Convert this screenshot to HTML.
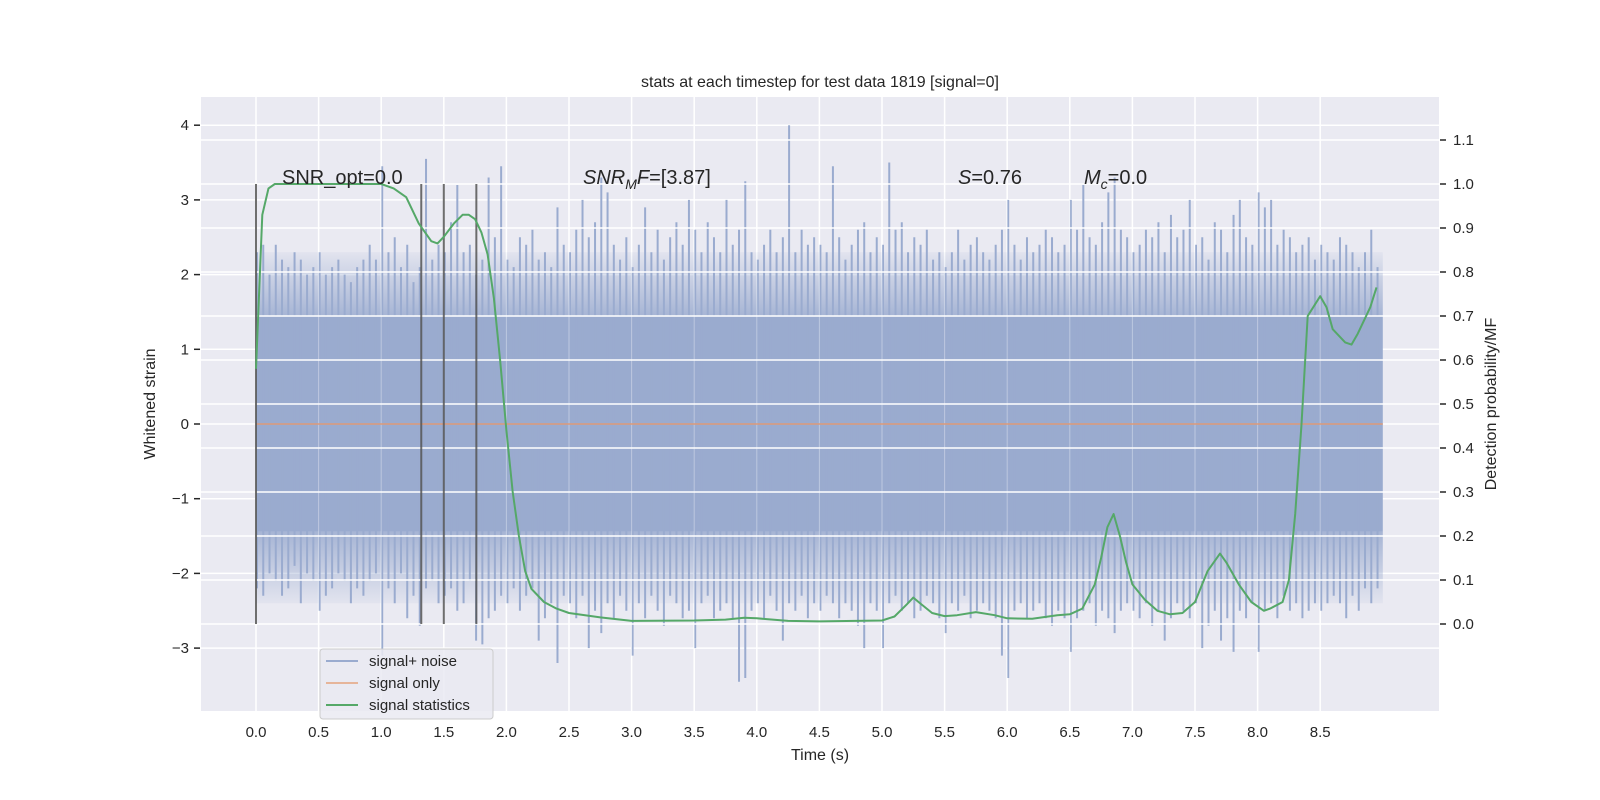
<!DOCTYPE html>
<html><head><meta charset="utf-8">
<style>
html,body{margin:0;padding:0;background:#fff;}
svg{display:block;font-family:"Liberation Sans","DejaVu Sans",sans-serif;}
</style></head>
<body>
<svg id="chart" width="1600" height="800" viewBox="0 0 1600 800" xmlns="http://www.w3.org/2000/svg">
<defs>
<linearGradient id="fadeUp" x1="0" y1="1" x2="0" y2="0">
<stop offset="0" stop-color="#9aabcf" stop-opacity="0.85"/>
<stop offset="1" stop-color="#9aabcf" stop-opacity="0.1"/>
</linearGradient>
<linearGradient id="fadeDown" x1="0" y1="0" x2="0" y2="1">
<stop offset="0" stop-color="#9aabcf" stop-opacity="0.85"/>
<stop offset="1" stop-color="#9aabcf" stop-opacity="0.1"/>
</linearGradient>
</defs>
<rect x="0" y="0" width="1600" height="800" fill="#ffffff"/>
<rect x="201" y="97" width="1238" height="614" fill="#eaeaf2"/>
<g id="gridL"></g>
<g id="noise"></g>
<g id="gridR"></g>
<g id="marks"></g>
<g id="axes"></g>
<text x="820" y="87" font-size="16" fill="#262626" text-anchor="middle">stats at each timestep for test data 1819 [signal=0]</text>
<text x="820" y="760" font-size="16" fill="#262626" text-anchor="middle">Time (s)</text>
<text transform="translate(155,404) rotate(-90)" font-size="16" fill="#262626" text-anchor="middle">Whitened strain</text>
<text transform="translate(1496,404) rotate(-90)" font-size="16" fill="#262626" text-anchor="middle">Detection probability/MF</text>
<text x="282" y="184" font-size="20" fill="#262626">SNR_opt=0.0</text>
<text x="583" y="184" font-size="20" fill="#262626"><tspan font-style="italic">SNR</tspan><tspan font-style="italic" font-size="14" dy="5">M</tspan><tspan font-style="italic" dy="-5">F</tspan>=[3.87]</text>
<text x="958" y="184" font-size="20" fill="#262626"><tspan font-style="italic">S</tspan>=0.76</text>
<text x="1084" y="184" font-size="20" fill="#262626"><tspan font-style="italic">M</tspan><tspan font-style="italic" font-size="14" dy="5">c</tspan><tspan dy="-5">=0.0</tspan></text>
<g>
<rect x="320" y="649" width="173" height="70" rx="3" fill="#eaeaf2" fill-opacity="0.85" stroke="#cccccc"/>
<line x1="326" y1="661" x2="358" y2="661" stroke="#9aabcf" stroke-width="2"/>
<text x="369" y="666" font-size="15" fill="#262626">signal+ noise</text>
<line x1="326" y1="683" x2="358" y2="683" stroke="#e6b59a" stroke-width="2"/>
<text x="369" y="688" font-size="15" fill="#262626">signal only</text>
<line x1="326" y1="705" x2="358" y2="705" stroke="#55a868" stroke-width="2"/>
<text x="369" y="710" font-size="15" fill="#262626">signal statistics</text>
</g>
</svg>
<script>
const xTicks = [0,0.5,1,1.5,2,2.5,3,3.5,4,4.5,5,5.5,6,6.5,7,7.5,8,8.5];
const yTicksL = [-3,-2,-1,0,1,2,3,4];
const yTicksR = [0,0.1,0.2,0.3,0.4,0.5,0.6,0.7,0.8,0.9,1.0,1.1];
const noiseStep = 0.05;
const noiseCore = 1.44;
const noiseUpper = [2.3,2.4,2.0,2.4,2.2,2.1,2.3,2.2,2.0,2.1, 2.3,2.0,2.1,2.2,2.0,1.9,2.1,2.2,2.4,2.2,
3.45,2.3,2.5,2.1,2.4,1.9,2.1,3.55,2.2,2.4, 2.3,2.7,3.2,2.3,2.4,2.0,2.2,3.3,2.5,3.45,
2.2,2.1,2.5,2.4,2.6,2.2,2.3,2.1,2.9,2.4, 2.3,2.6,3.0,2.5,2.7,3.3,3.1,2.4,2.2,2.5,
2.1,2.4,2.9,2.3,2.6,2.2,2.5,2.7,2.4,3.0, 2.6,2.3,2.7,2.5,2.3,3.0,2.4,2.6,3.25,2.3,
2.2,2.4,2.6,2.3,2.5,4.0,2.3,2.6,2.4,2.5, 2.4,2.3,3.45,2.5,2.2,2.4,2.6,2.7,2.3,2.5,
2.4,3.5,2.6,2.7,2.3,2.5,2.4,2.6,2.2,2.3, 2.1,2.3,2.6,2.2,2.4,2.5,2.3,2.2,2.4,2.6,
3.0,2.4,2.2,2.5,2.3,2.4,2.6,2.5,2.3,2.4, 3.0,2.6,3.2,2.5,2.4,2.7,3.1,3.3,2.6,2.5,
2.3,2.4,2.6,2.5,2.7,2.3,2.8,2.5,2.6,3.0, 2.4,2.5,2.2,2.7,2.6,2.3,2.8,3.0,2.5,2.4,
3.1,2.9,3.0,2.4,2.6,2.5,2.3,2.4,2.5,2.2, 2.4,2.3,2.2,2.5,2.4,2.3,2.1,2.3,2.6,2.1];
const noiseLower = [-2.2,-2.3,-2.0,-2.1,-2.3,-2.2,-1.9,-2.4,-2.0,-2.1, -2.5,-2.3,-2.2,-2.0,-2.1,-2.4,-2.2,-2.3,-2.1,-2.0,
-3.1,-2.2,-2.4,-2.0,-2.6,-2.3,-2.7,-2.2,-2.1,-2.4, -2.3,-2.2,-2.5,-2.4,-2.1,-2.9,-2.95,-2.6,-2.5,-2.3,
-2.4,-2.2,-2.5,-2.3,-2.2,-2.9,-2.6,-2.4,-3.2,-2.3, -2.4,-2.6,-2.3,-3.0,-2.5,-2.8,-2.4,-2.6,-2.3,-2.5,
-3.1,-2.4,-2.6,-2.3,-2.5,-2.7,-2.3,-2.4,-2.6,-2.5, -3.0,-2.4,-2.3,-2.6,-2.5,-2.4,-2.6,-3.45,-3.4,-2.5,
-2.4,-2.6,-2.3,-2.5,-2.9,-2.4,-2.5,-2.3,-2.6,-2.4, -2.5,-2.3,-2.4,-2.6,-2.4,-2.5,-2.7,-3.0,-2.4,-2.5,
-3.0,-2.4,-2.3,-2.5,-2.4,-2.6,-2.5,-2.3,-2.4,-2.6, -2.8,-2.4,-2.5,-2.3,-2.6,-2.5,-2.4,-2.5,-2.6,-3.1,
-3.4,-2.5,-2.4,-2.6,-2.5,-2.4,-2.6,-2.7,-2.5,-2.6, -3.05,-2.6,-2.5,-2.4,-2.7,-2.5,-2.6,-2.8,-2.5,-2.4,
-2.5,-2.6,-2.4,-2.7,-2.5,-2.9,-2.6,-2.4,-2.5,-2.6, -2.4,-3.0,-2.7,-2.5,-2.9,-2.6,-3.05,-2.5,-2.6,-2.4,
-3.05,-2.5,-2.4,-2.6,-2.3,-2.5,-2.4,-2.6,-2.5,-2.4, -2.5,-2.4,-2.3,-2.4,-2.6,-2.3,-2.5,-2.2,-2.4,-2.2];
const statT = [0,0.05,0.1,0.15,0.2,0.3,0.5,0.8,1.0,1.1,1.2,1.3,1.4,1.45,1.5,1.58,1.65,1.7,1.75,1.8,1.85,1.9,1.95,2.0,2.05,2.1,2.15,2.2,2.3,2.4,2.5,2.75,3.0,3.5,3.75,3.9,4.0,4.25,4.5,5.0,5.1,5.2,5.25,5.3,5.4,5.5,5.6,5.75,5.9,6.0,6.2,6.4,6.5,6.6,6.7,6.75,6.8,6.85,6.9,6.95,7.0,7.1,7.2,7.3,7.4,7.5,7.6,7.7,7.75,7.85,7.95,8.05,8.1,8.2,8.25,8.3,8.35,8.4,8.5,8.55,8.6,8.7,8.75,8.8,8.9,8.95];
const statP = [0.58,0.93,0.99,1.0,1.0,1.0,1.0,1.0,1.0,0.99,0.97,0.91,0.87,0.865,0.88,0.91,0.93,0.93,0.92,0.89,0.84,0.74,0.6,0.44,0.3,0.2,0.12,0.08,0.05,0.035,0.025,0.015,0.007,0.008,0.01,0.014,0.013,0.007,0.006,0.008,0.017,0.045,0.06,0.048,0.025,0.018,0.02,0.027,0.02,0.013,0.012,0.02,0.022,0.035,0.09,0.15,0.22,0.25,0.2,0.14,0.09,0.055,0.03,0.022,0.025,0.05,0.12,0.16,0.14,0.09,0.05,0.03,0.035,0.05,0.1,0.25,0.45,0.7,0.745,0.72,0.67,0.64,0.635,0.66,0.72,0.765];
const vLineT = [0,1.32,1.5,1.76];
const signalOnly = [0,0];
const signalOnlyT = [0,9.0];

const NS='http://www.w3.org/2000/svg';
const X = t => 256 + 125.2*t;
const YL = v => 424 - 74.7*v;
const YR = p => 624 - 440*p;
function mk(tag, attrs, parent){ const e=document.createElementNS(NS,tag); for(const k in attrs) e.setAttribute(k,attrs[k]); parent.appendChild(e); return e; }
const gL=document.getElementById('gridL'), gN=document.getElementById('noise'), gR=document.getElementById('gridR'), gM=document.getElementById('marks'), gA=document.getElementById('axes');

yTicksL.forEach(v=>{
  const l=mk('line',{x1:201,x2:1439,y1:YL(v),y2:YL(v),stroke:'#fff','stroke-width':1.5},gL);
  
  
  mk('line',{x1:194,x2:200,y1:YL(v),y2:YL(v),stroke:'#262626','stroke-width':1.5},gA);
  const t=mk('text',{x:189,y:YL(v)+5,'font-size':15,fill:'#262626','text-anchor':'end'},gA);
  t.textContent = v<0 ? '\u2212'+Math.abs(v) : String(v);
  
  
});
xTicks.forEach(v=>{
  const l=mk('line',{x1:X(v),x2:X(v),y1:97,y2:711,stroke:'#fff','stroke-width':1.5},gL);
  
  
  const t=mk('text',{x:X(v),y:737,'font-size':15,fill:'#262626','text-anchor':'middle'},gA);
  t.textContent=v.toFixed(1);
  
  
});
// noise
const band=mk('rect',{x:X(0),y:YL(noiseCore),width:X(9)-X(0),height:YL(-noiseCore)-YL(noiseCore),fill:'#9aabcf'},gN);


const fu=mk('rect',{x:X(0),y:YL(2.3),width:X(9)-X(0),height:YL(noiseCore)-YL(2.3),fill:'url(#fadeUp)'},gN);


const fd=mk('rect',{x:X(0),y:YL(-noiseCore),width:X(9)-X(0),height:YL(-2.4)-YL(-noiseCore),fill:'url(#fadeDown)'},gN);


noiseUpper.forEach((v,i)=>{
  const t=i*noiseStep;
  const l=mk('line',{x1:X(t)+1,x2:X(t)+1,y1:YL(v),y2:YL(noiseLower[i]),stroke:'#9aabcf','stroke-width':2},gN);
  
  
});
// right grid overlay
yTicksR.forEach(p=>{
  const l=mk('line',{x1:201,x2:1439,y1:YR(p),y2:YR(p),stroke:'#fff','stroke-width':1.5},gR);
  
  
  mk('line',{x1:1440,x2:1446,y1:YR(p),y2:YR(p),stroke:'#262626','stroke-width':1.5},gA);
  const t=mk('text',{x:1453,y:YR(p)+5,'font-size':15,fill:'#262626'},gA);
  t.textContent=p.toFixed(1);
  
  
});
xTicks.forEach(v=>{
  const l=mk('line',{x1:X(v),x2:X(v),y1:97,y2:711,stroke:'#fff','stroke-width':1,'stroke-opacity':0.35},gR);
  
  
});
// signal only
const so=mk('line',{x1:X(signalOnlyT[0]),x2:X(signalOnlyT[1]),y1:YL(signalOnly[0]),y2:YL(signalOnly[1]),stroke:'#dd9a78','stroke-width':1.5},gM);


// vertical markers
vLineT.forEach(t=>{
  const l=mk('line',{x1:X(t),x2:X(t),y1:YR(1),y2:YR(0),stroke:'#555555','stroke-width':2,'stroke-opacity':0.85},gM);
  
  
});
// stats curve
const pts=statT.map((t,i)=>X(t).toFixed(1)+','+YR(statP[i]).toFixed(1)).join(' ');
const pl=mk('polyline',{points:pts,fill:'none',stroke:'#55a868','stroke-width':2,'stroke-linejoin':'round'},gM);


</script>
</body></html>
